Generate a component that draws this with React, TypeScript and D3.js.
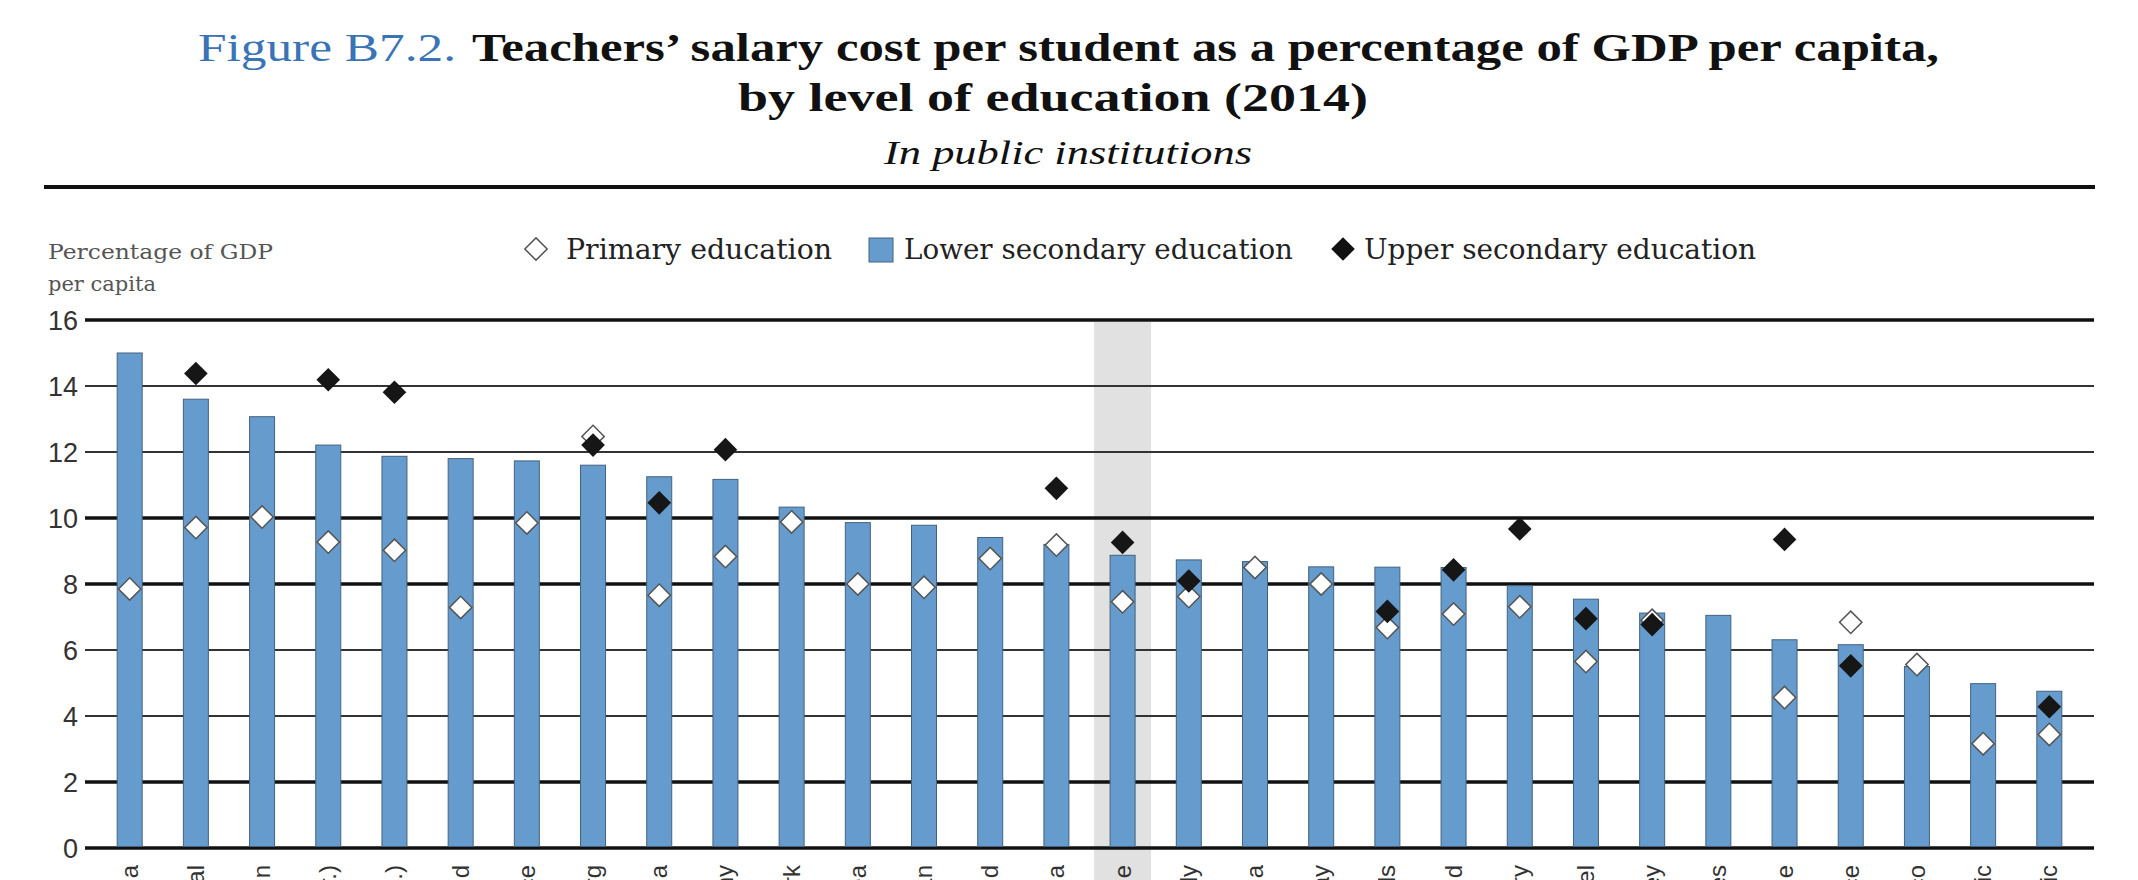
import React from "react";
import * as d3 from "d3";

const countries = [
  "Austria", "Portugal", "Spain", "Belgium (Fr.)", "Belgium (Fl.)", "Finland", "France",
  "Luxembourg", "Slovenia", "Germany", "Denmark", "Korea", "Japan", "Iceland", "Estonia",
  "OECD average", "Italy", "Latvia", "Norway", "Netherlands", "Poland", "Hungary", "Israel",
  "Turkey", "United States", "Chile", "Greece", "Mexico", "Slovak Republic", "Czech Republic",
];

const lowerSecondary = [
  15.0, 13.6, 13.07, 12.21, 11.87, 11.8, 11.73, 11.6, 11.25, 11.17,
  10.33, 9.86, 9.78, 9.41, 9.2, 8.87, 8.73, 8.68, 8.52, 8.51,
  8.5, 7.95, 7.54, 7.12, 7.05, 6.31, 6.16, 5.5, 4.98, 4.75,
];

const primary: (number | null)[] = [
  7.85, 9.71, 10.03, 9.27, 9.02, 7.29, 9.85, 12.47, 7.66, 8.83,
  9.88, 8.0, 7.9, 8.77, 9.18, 7.46, 7.62, 8.5, 8.0, 6.68,
  7.09, 7.31, 5.65, 6.9, null, 4.56, 6.84, 5.56, 3.16, 3.44,
];

const upperSecondary: (number | null)[] = [
  null, 14.38, null, 14.19, 13.81, null, null, 12.21, 10.46, 12.07,
  null, null, null, null, 10.9, 9.26, 8.09, null, null, 7.17,
  8.43, 9.67, 6.95, 6.77, null, 9.35, 5.52, null, null, 4.28,
];

const yTicks = [0, 2, 4, 6, 8, 10, 12, 14, 16];
const strongTicks = [0, 2, 8, 10, 16];
const highlighted = "OECD average";

const legendItems = ["Primary education", "Lower secondary education", "Upper secondary education"];

const W = 2138;
const H = 880;
const plotLeft = 85;
const plotRight = 2094;
const plotTop = 320;
const plotBottom = 848;

const BAR_FILL = "#659ccd";
const BAR_STROKE = "#44627f";
const SERIF = "'DejaVu Serif', 'Liberation Serif', serif";
const TITLE_SERIF = "'Liberation Serif', 'DejaVu Serif', serif";
const SANS = "'Liberation Sans', Arial, sans-serif";

export default function App() {
  const x = d3.scalePoint<string>().domain(countries).range([plotLeft, plotRight]).padding(0.675);
  const y = d3.scaleLinear().domain([0, 16]).range([plotBottom, plotTop]);
  const barW = 25;
  const diamondPath = d3.symbol().type(d3.symbolSquare).size(250)() as string;
  const diamondBig = d3.symbol().type(d3.symbolSquare).size(280)() as string;

  const hx = x(highlighted)!;

  return (
    <svg
      width={W}
      height={H}
      style={{ position: "absolute", left: 0, top: 0, background: "#fff" }}
      xmlns="http://www.w3.org/2000/svg"
    >
      <rect x={0} y={0} width={W} height={H} fill="#fff" />

      {/* Title */}
      <text x={198} y={61} fontFamily={TITLE_SERIF} fontSize={41} fill="#3a74b6" textLength={258} lengthAdjust="spacingAndGlyphs">
        Figure B7.2.
      </text>
      <text x={472} y={61} fontFamily={TITLE_SERIF} fontWeight="bold" fontSize={41} fill="#111" textLength={1467} lengthAdjust="spacingAndGlyphs">
        Teachers’ salary cost per student as a percentage of GDP per capita,
      </text>
      <text x={738} y={111} fontFamily={TITLE_SERIF} fontWeight="bold" fontSize={41} fill="#111" textLength={630} lengthAdjust="spacingAndGlyphs">
        by level of education (2014)
      </text>
      <text x={884} y={164} fontFamily={TITLE_SERIF} fontStyle="italic" fontSize={34} fill="#111" textLength={368} lengthAdjust="spacingAndGlyphs">
        In public institutions
      </text>
      <line x1={44} x2={2095} y1={187} y2={187} stroke="#111" strokeWidth={4} />

      {/* Legend */}
      <path d={diamondPath} transform={`translate(536,249) rotate(45)`} fill="#fff" stroke="#555" strokeWidth={1.5} />
      <text x={566} y={259} fontFamily={SERIF} fontSize={27} fill="#222" textLength={266} lengthAdjust="spacingAndGlyphs">
        {legendItems[0]}
      </text>
      <rect x={869} y={238} width={24} height={24} fill={BAR_FILL} stroke={BAR_STROKE} strokeWidth={1} />
      <text x={904} y={259} fontFamily={SERIF} fontSize={27} fill="#222" textLength={389} lengthAdjust="spacingAndGlyphs">
        {legendItems[1]}
      </text>
      <path d={diamondBig} transform={`translate(1343,249) rotate(45)`} fill="#111" />
      <text x={1364} y={259} fontFamily={SERIF} fontSize={27} fill="#222" textLength={392} lengthAdjust="spacingAndGlyphs">
        {legendItems[2]}
      </text>

      {/* Axis title */}
      <text x={48} y={259} fontFamily={SERIF} fontSize={21} fill="#555" textLength={225} lengthAdjust="spacingAndGlyphs">
        Percentage of GDP
      </text>
      <text x={48} y={291} fontFamily={SERIF} fontSize={21} fill="#555">
        per capita
      </text>

      {/* Highlight band */}
      <rect x={hx - 28.5} y={plotTop + 2} width={57} height={H - plotTop} fill="#e1e1e1" />

      {/* Gridlines */}
      {yTicks.map((t) => {
        const strong = strongTicks.includes(t);
        return (
          <line
            key={t}
            x1={plotLeft}
            x2={plotRight}
            y1={y(t)}
            y2={y(t)}
            stroke={strong ? "#111" : "#333"}
            strokeWidth={strong ? 3.5 : 1.8}
          />
        );
      })}
      {yTicks.map((t) => (
        <text key={t} x={78} y={y(t) + 10} textAnchor="end" fontFamily={SANS} fontSize={27} fill="#333">
          {t}
        </text>
      ))}

      {/* Bars */}
      {countries.map((c, i) => (
        <rect
          key={c}
          x={x(c)! - barW / 2}
          y={y(lowerSecondary[i])}
          width={barW}
          height={y(0) - y(lowerSecondary[i]) - 1.5}
          fill={BAR_FILL}
          stroke={BAR_STROKE}
          strokeWidth={1}
        />
      ))}

      {/* Primary markers */}
      {countries.map((c, i) =>
        primary[i] == null ? null : (
          <path
            key={c}
            d={diamondPath}
            transform={`translate(${x(c)},${y(primary[i] as number)}) rotate(45)`}
            fill="#fff"
            stroke="#555"
            strokeWidth={1.5}
          />
        )
      )}

      {/* Upper secondary markers */}
      {countries.map((c, i) =>
        upperSecondary[i] == null ? null : (
          <path
            key={c}
            d={diamondBig}
            transform={`translate(${x(c)},${y(upperSecondary[i] as number)}) rotate(45)`}
            fill="#161616"
          />
        )
      )}

      {/* Category labels (cut off by the frame, as in the reference) */}
      {countries.map((c) => (
        <text
          key={c}
          transform={`translate(${x(c)! + 8},865) rotate(-90)`}
          textAnchor="end"
          fontFamily={SANS}
          fontSize={24}
          fill="#333"
        >
          {c}
        </text>
      ))}
    </svg>
  );
}
